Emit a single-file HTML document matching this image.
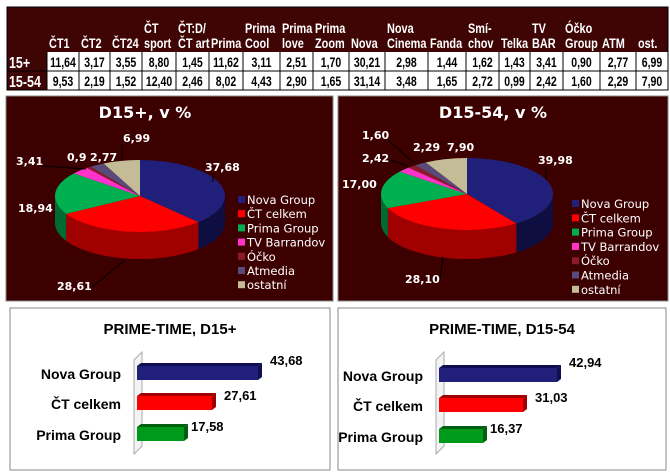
<!DOCTYPE html><html><head><meta charset="utf-8"><style>
body{margin:0;background:#fff;width:670px;height:475px;overflow:hidden}
svg{display:block}
.h{font-family:"Liberation Sans",sans-serif;font-weight:bold;font-size:14px;fill:#fff}
.d{font-family:"Liberation Sans",sans-serif;font-weight:bold;font-size:13.5px;fill:#000}
.r{font-family:"Liberation Sans",sans-serif;font-weight:bold;font-size:16px;fill:#fff}
.t{font-family:"DejaVu Sans","Liberation Sans",sans-serif;font-weight:bold;font-size:16px;fill:#fff}
.pl{font-family:"DejaVu Sans","Liberation Sans",sans-serif;font-weight:bold;font-size:11px;fill:#fff}
.lg{font-family:"DejaVu Sans","Liberation Sans",sans-serif;font-size:11.5px;fill:#fff}
.bt{font-family:"Liberation Sans",sans-serif;font-weight:bold;font-size:15px;fill:#000}
.bl{font-family:"Liberation Sans",sans-serif;font-weight:bold;font-size:14px;fill:#000}
.bv{font-family:"Liberation Sans",sans-serif;font-weight:bold;font-size:13px;fill:#000}
</style></head><body>
<svg id="s" width="670" height="475" xmlns="http://www.w3.org/2000/svg"></svg>
<script>
const s=document.getElementById('s');let o='';
const T=(cls,x,y,t,anc)=>`<text class="${cls}" transform="translate(${x},${y}) scale(0.78,1)"${anc?` text-anchor="${anc}"`:''}>${t}</text>`;
const xs=[7,47,79,110,142,176,209,243,280,313,349,385,428,466,499,530,563,600,636,668];
const hd=[[''],['ČT1'],['ČT2'],['ČT24'],['ČT','sport'],['ČT:D/','ČT art'],['Prima'],['Prima','Cool'],['Prima','love'],['Prima','Zoom'],['Nova'],['Nova','Cinema'],['Fanda'],['Smí-','chov'],['Telka'],['TV','BAR'],['Óčko','Group'],['ATM'],['ost.']];
const r1=['11,64','3,17','3,55','8,80','1,45','11,62','3,11','2,51','1,70','30,21','2,98','1,44','1,62','1,43','3,41','0,90','2,77','6,99'];
const r2=['9,53','2,19','1,52','12,40','2,46','8,02','4,43','2,90','1,65','31,14','3,48','1,65','2,72','0,99','2,42','1,60','2,29','7,90'];
o+=`<rect x="7" y="7" width="661" height="45" fill="#3f0505"/><rect x="7" y="52" width="40" height="38" fill="#3f0505"/>`;
for(let i=0;i<19;i++){const x=xs[i],w=xs[i+1]-x;const h=hd[i];
 if(h.length==2){o+=T('h',x+2,33,h[0]);}
 o+=T('h',x+2,48,h[h.length-1]);
 if(i>0){o+=T('d',x+w/2,67,r1[i-1],'middle')+T('d',x+w/2,86,r2[i-1],'middle');}
}
o+=T('r',9,68,'15+')+T('r',9,87,'15-54');
for(let i=1;i<19;i++)o+=`<line x1="${xs[i]}" y1="52" x2="${xs[i]}" y2="90" stroke="#000"/>`;
o+=`<line x1="7" y1="71" x2="668" y2="71" stroke="#000"/><rect x="7" y="7" width="661" height="83" fill="none" stroke="#000"/>`;
const cols=['#20207a','#ff0000','#00b050','#ff33cc','#8b1a2b','#5a4a7a','#c4bc96'];
const sides=['#0e0e40','#a00000','#006a30','#a0207a','#501018','#352a4a','#7a7458'];
const names=['Nova Group','ČT celkem','Prima Group','TV Barrandov','Óčko','Atmedia','ostatní'];
function pie(cx,cy,rx,ry,dp,vals){let tot=vals.reduce((a,b)=>a+b,0);let a=-Math.PI/2;const P=(t,dy=0)=>[cx+rx*Math.cos(t),cy+ry*Math.sin(t)+dy];let arr=[];
 vals.forEach((v,i)=>{const b=a+v/tot*2*Math.PI;arr.push([a,b]);a=b;});
 let out='';
 arr.forEach(([a1,b1],i)=>{let lo=Math.max(a1,0),hi=Math.min(b1,Math.PI);if(hi>lo){const p1=P(lo),p2=P(hi),p3=P(hi,dp),p4=P(lo,dp);
  out+=`<path d="M${p1} A${rx} ${ry} 0 0 1 ${p2} L${p3} A${rx} ${ry} 0 0 0 ${p4} Z" fill="${sides[i]}"/>`;}});
 arr.forEach(([a1,b1],i)=>{const p1=P(a1),p2=P(b1);const lg=(b1-a1)>Math.PI?1:0;
  out+=`<path d="M${cx},${cy} L${p1} A${rx} ${ry} 0 ${lg} 1 ${p2} Z" fill="${cols[i]}"/>`;});
 return out;}
function legend(x,y0,st){let out='';names.forEach((n,i)=>{const y=y0+i*st;out+=`<rect x="${x}" y="${y-4}" width="7" height="7" fill="${cols[i]}"/><text class="lg" x="${x+9}" y="${y+4}">${n}</text>`;});return out;}
o+=`<rect x="6" y="96" width="327" height="205" fill="#3d0000" stroke="#888"/><rect x="338" y="96" width="330" height="205" fill="#3d0000" stroke="#888"/>`;
o+=`<text class="t" x="145" y="118" text-anchor="middle">D15+, v %</text><text class="t" x="493" y="118" text-anchor="middle">D15-54, v %</text>`;
o+=pie(140,196,85,36,27,[37.68,28.61,18.94,3.41,0.9,2.77,6.99]);
o+=pie(467,194,86,36,29,[39.98,28.10,17.00,2.42,1.60,2.29,7.90]);
o+=legend(238,200,14.2)+legend(572,204,14.3);
const L=[[205,171,'37,68'],[57,290,'28,61'],[18,212,'18,94'],[16,165,'3,41'],[67,161,'0,9'],[90,161,'2,77'],[123,142,'6,99'],
[538,164,'39,98'],[405,283,'28,10'],[342,188,'17,00'],[362,162,'2,42'],[362,139,'1,60'],[413,151,'2,29'],[447,151,'7,90']];
L.forEach(([x,y,t])=>o+=`<text class="pl" x="${x}" y="${y}">${t}</text>`);
o+=`<g stroke="#000" fill="none"><path d="M213,173 L213,182"/><path d="M92,287 L125,260"/><path d="M42,166 L86,169"/><path d="M122,145 L122,160"/><path d="M546,167 L546,180"/><path d="M440,279 L443,257"/><path d="M390,160 L408,166"/><path d="M388,140 L414,163"/></g>`;
function bars(px,ax,ys,ends,vals){let out=`<rect x="${px}" y="308" width="${px<100?320:328}" height="162" fill="#fff" stroke="#888"/>`;
 const cx=px+(px<100?160:164);out+=`<text class="bt" x="${cx}" y="334" text-anchor="middle">PRIME-TIME, D15${px<100?'+':'-54'}</text>`;
 out+=`<path d="M${ax-3},360 L${ax+5},352 L${ax+5},446 L${ax-3},454 Z" fill="#f4f4f4" stroke="#aaa"/>`;
 const bc=['#20207a','#ff0000','#009a1a'],bd=['#0e0e50','#a00000','#006010'];
 ys.forEach((y,i)=>{out+=`<path d="M${ax},${y} L${ax+4},${y-3} L${ends[i]+4},${y-3} L${ends[i]},${y} Z" fill="${bd[i]}"/><path d="M${ends[i]},${y} L${ends[i]+4},${y-3} L${ends[i]+4},${y+11} L${ends[i]},${y+14} Z" fill="${bd[i]}"/><rect x="${ax}" y="${y}" width="${ends[i]-ax}" height="14" fill="${bc[i]}"/>`;
  out+=`<text class="bv" x="${ends[i]+(i==2?7:12)}" y="${y+(i==0?-1:4)}">${vals[i]}</text>`;
  out+=`<text class="bl" x="${ax-16}" y="${y+13}" text-anchor="end">${names[i]}</text>`;});
 return out;}
o+=bars(10,137,[366,396,427],[258,212,184],['43,68','27,61','17,58']);
o+=bars(338,439,[368,398,429],[557,523,483],['42,94','31,03','16,37']);
s.innerHTML=o;
</script>
</body></html>
